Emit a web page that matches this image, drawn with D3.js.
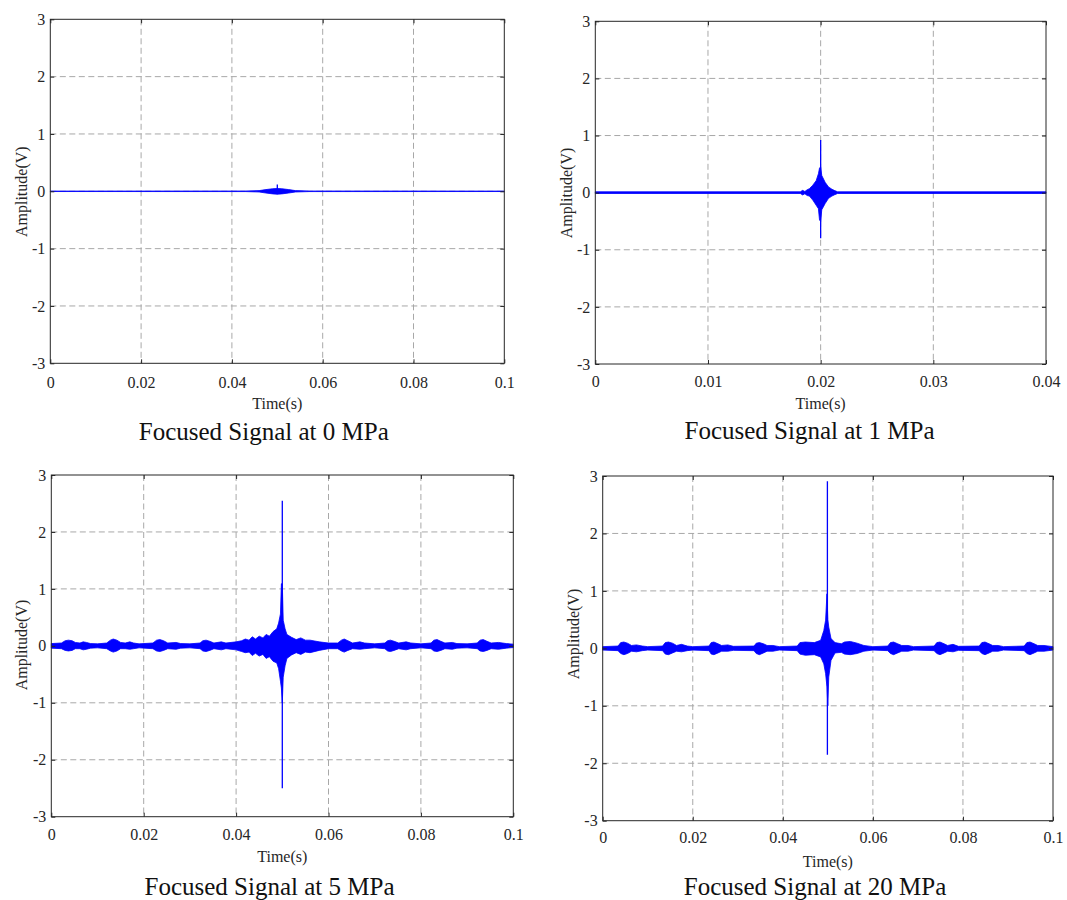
<!DOCTYPE html>
<html>
<head>
<meta charset="utf-8">
<script src="https://cdn.jsdelivr.net/npm/d3@7"></script>
<style>
  body { margin: 0; background: #fff; }
  svg { display: block; }
</style>
</head>
<body>
<svg id="chart" width="1067" height="900"></svg>
<script>
const SERIF = '"Liberation Serif", "Times New Roman", serif';

// tick values
const yTicks = [-3, -2, -1, 0, 1, 2, 3];
const xTicksLong = [0, 0.02, 0.04, 0.06, 0.08, 0.1];
const xTicksShort = [0, 0.01, 0.02, 0.03, 0.04];

const titles = ["Focused Signal at 0 MPa", "Focused Signal at 1 MPa",
                "Focused Signal at 5 MPa", "Focused Signal at 20 MPa"];

// envelope of each signal (time in s, upper / lower amplitude in V)
const env0Time  = [0, 0.043, 0.046, 0.0475, 0.049, 0.050, 0.051, 0.0525, 0.054, 0.057, 0.1];
const env0Upper = [0.004, 0.005, 0.012, 0.03, 0.045, 0.05, 0.045, 0.03, 0.012, 0.005, 0.004];
const env0Lower = [-0.004, -0.005, -0.012, -0.03, -0.045, -0.05, -0.045, -0.03, -0.012, -0.005, -0.004];

const env1Time  = [0, 0.0182, 0.0184, 0.0186, 0.0188, 0.0190, 0.0193, 0.0196, 0.0198, 0.0199, 0.0200,
                   0.0201, 0.0204, 0.0207, 0.0210, 0.0212, 0.0215, 0.04];
const env1Upper = [0.015, 0.015, 0.04, 0.02, 0.05, 0.07, 0.13, 0.21, 0.33, 0.43, 0.45,
                   0.30, 0.18, 0.10, 0.06, 0.04, 0.015, 0.015];
const env1Lower = [-0.015, -0.015, -0.04, -0.02, -0.05, -0.06, -0.13, -0.22, -0.28, -0.48, -0.50,
                   -0.30, -0.19, -0.10, -0.06, -0.04, -0.015, -0.015];

const env5Time  = [0, 0.0022, 0.0030, 0.0037, 0.0045, 0.0052, 0.0062, 0.0069, 0.0076, 0.0085,
                   0.0100, 0.0120, 0.0128, 0.0134, 0.0142, 0.0150, 0.0160, 0.0170, 0.0178, 0.0190,
                   0.0220, 0.0228, 0.0235, 0.0243, 0.0252, 0.0270, 0.0280, 0.0300,
                   0.0322, 0.0328, 0.0335, 0.0343, 0.0352, 0.0368, 0.0378,
                   0.0400, 0.0412, 0.0420, 0.0428, 0.0435, 0.0442, 0.0450, 0.0458, 0.0465, 0.0472,
                   0.0480, 0.0488, 0.0492, 0.0496, 0.0498,
                   0.0500, 0.0502, 0.0506, 0.0510, 0.0520, 0.0530, 0.0540, 0.0550, 0.0560, 0.0580, 0.0600,
                   0.0620, 0.0628, 0.0634, 0.0642, 0.0652, 0.0668, 0.0678, 0.0700,
                   0.0722, 0.0728, 0.0734, 0.0742, 0.0752, 0.0768, 0.0778, 0.0800,
                   0.0822, 0.0828, 0.0835, 0.0843, 0.0852, 0.0868, 0.0878, 0.0900,
                   0.0922, 0.0928, 0.0935, 0.0943, 0.0952, 0.0968, 0.0985, 0.1];
const env5Upper = [0.04, 0.05, 0.09, 0.10, 0.09, 0.06, 0.05, 0.07, 0.06, 0.04,
                   0.035, 0.05, 0.10, 0.12, 0.10, 0.06, 0.05, 0.07, 0.05, 0.035,
                   0.05, 0.10, 0.11, 0.09, 0.05, 0.06, 0.04, 0.035,
                   0.05, 0.09, 0.10, 0.08, 0.05, 0.07, 0.05,
                   0.07, 0.09, 0.12, 0.10, 0.16, 0.12, 0.17, 0.14, 0.20, 0.17,
                   0.25, 0.30, 0.40, 0.56, 1.09,
                   1.09, 0.45, 0.30, 0.20, 0.15, 0.11, 0.14, 0.10, 0.10, 0.07, 0.05,
                   0.05, 0.10, 0.12, 0.09, 0.05, 0.07, 0.05, 0.035,
                   0.05, 0.09, 0.10, 0.08, 0.05, 0.07, 0.05, 0.035,
                   0.05, 0.10, 0.11, 0.08, 0.05, 0.06, 0.04, 0.035,
                   0.05, 0.10, 0.11, 0.08, 0.05, 0.06, 0.04, 0.03];
const env5Lower = [-0.04, -0.05, -0.08, -0.09, -0.08, -0.05, -0.05, -0.07, -0.06, -0.04,
                   -0.035, -0.05, -0.09, -0.11, -0.09, -0.05, -0.05, -0.06, -0.05, -0.035,
                   -0.05, -0.09, -0.10, -0.08, -0.05, -0.06, -0.04, -0.035,
                   -0.05, -0.09, -0.10, -0.08, -0.05, -0.07, -0.05,
                   -0.07, -0.10, -0.12, -0.11, -0.17, -0.13, -0.18, -0.15, -0.22, -0.19,
                   -0.27, -0.30, -0.40, -0.62, -0.74,
                   -1.00, -0.55, -0.35, -0.22, -0.16, -0.12, -0.15, -0.11, -0.12, -0.08, -0.05,
                   -0.05, -0.09, -0.11, -0.08, -0.05, -0.06, -0.05, -0.035,
                   -0.05, -0.09, -0.10, -0.08, -0.05, -0.07, -0.05, -0.035,
                   -0.05, -0.09, -0.10, -0.08, -0.05, -0.06, -0.04, -0.035,
                   -0.05, -0.09, -0.10, -0.08, -0.05, -0.06, -0.04, -0.03];

const env20Time  = [0, 0.0034, 0.0040, 0.0047, 0.0055, 0.0064, 0.0075, 0.0088, 0.0100,
                    0.0133, 0.0139, 0.0146, 0.0155, 0.0164, 0.0175, 0.0188, 0.0200,
                    0.0236, 0.0241, 0.0247, 0.0256, 0.0264, 0.0278, 0.0290,
                    0.0336, 0.0341, 0.0348, 0.0357, 0.0365, 0.0378, 0.0392,
                    0.0432, 0.0438, 0.0450, 0.0470, 0.0484, 0.0491, 0.0495, 0.0498,
                    0.0500, 0.0502, 0.0507, 0.0516, 0.0530, 0.0537, 0.0550, 0.0565, 0.0580, 0.0600,
                    0.0633, 0.0639, 0.0646, 0.0655, 0.0664, 0.0678, 0.0690,
                    0.0736, 0.0742, 0.0749, 0.0758, 0.0766, 0.0778, 0.0790,
                    0.0836, 0.0842, 0.0849, 0.0858, 0.0866, 0.0878, 0.0890,
                    0.0936, 0.0942, 0.0949, 0.0958, 0.0966, 0.0980, 0.1];
const env20Upper = [0.03, 0.04, 0.10, 0.11, 0.09, 0.05, 0.06, 0.04, 0.03,
                    0.04, 0.10, 0.11, 0.09, 0.05, 0.07, 0.04, 0.03,
                    0.04, 0.10, 0.11, 0.08, 0.05, 0.06, 0.035,
                    0.04, 0.09, 0.10, 0.08, 0.05, 0.05, 0.03,
                    0.04, 0.10, 0.11, 0.10, 0.14, 0.31, 0.49, 0.95,
                    0.50, 0.37, 0.17, 0.10, 0.08, 0.11, 0.12, 0.09, 0.05, 0.03,
                    0.04, 0.10, 0.11, 0.08, 0.05, 0.05, 0.03,
                    0.04, 0.10, 0.11, 0.08, 0.05, 0.07, 0.035,
                    0.04, 0.10, 0.11, 0.08, 0.05, 0.05, 0.03,
                    0.04, 0.10, 0.11, 0.08, 0.05, 0.05, 0.03];
const env20Lower = [-0.03, -0.04, -0.09, -0.11, -0.09, -0.05, -0.06, -0.04, -0.03,
                    -0.04, -0.10, -0.11, -0.08, -0.05, -0.06, -0.04, -0.03,
                    -0.04, -0.10, -0.11, -0.08, -0.05, -0.05, -0.035,
                    -0.04, -0.09, -0.11, -0.08, -0.05, -0.05, -0.03,
                    -0.04, -0.10, -0.12, -0.11, -0.15, -0.27, -0.44, -0.67,
                    -1.00, -0.50, -0.21, -0.08, -0.07, -0.10, -0.11, -0.09, -0.05, -0.03,
                    -0.04, -0.09, -0.11, -0.08, -0.05, -0.05, -0.03,
                    -0.04, -0.09, -0.11, -0.08, -0.05, -0.06, -0.035,
                    -0.04, -0.09, -0.11, -0.08, -0.05, -0.05, -0.03,
                    -0.04, -0.09, -0.11, -0.08, -0.05, -0.05, -0.03];

// the single sharp peak of each signal: time, max, min
const spikeTime   = [0.05, 0.02, 0.05, 0.0499];
const spikeTop    = [0.12, 0.92, 2.55, 2.91];
const spikeBottom = [-0.05, -0.80, -2.50, -1.85];

const panels = [
  { t: env0Time,  up: env0Upper,  lo: env0Lower,  xt: xTicksLong,
    x0: 50.3, x1: 504.3, y0: 19.3, y1: 363.3, labX: 26.7, labY: 191.7, tickBase: 388, timeBase: 409.3, titleX: 263.8, titleBase: 440 },
  { t: env1Time,  up: env1Upper,  lo: env1Lower,  xt: xTicksShort,
    x0: 595.3, x1: 1046, y0: 21.3, y1: 364, labX: 572, labY: 193, tickBase: 387, timeBase: 409, titleX: 809.5, titleBase: 439 },
  { t: env5Time,  up: env5Upper,  lo: env5Lower,  xt: xTicksLong,
    x0: 51.3, x1: 513.3, y0: 475, y1: 816.7, labX: 27, labY: 645, tickBase: 840, timeBase: 861.7, titleX: 269.5, titleBase: 895 },
  { t: env20Time, up: env20Upper, lo: env20Lower, xt: xTicksLong,
    x0: 602.7, x1: 1053, y0: 476, y1: 820.7, labX: 579, labY: 634, tickBase: 843.3, timeBase: 866.7, titleX: 815, titleBase: 895 }
];

const svg = d3.select("#chart");
const fmt = d => d === 0 ? "0" : String(+d.toFixed(2));

panels.forEach((p, i) => {
  const xMax = p.xt[p.xt.length - 1];
  const x = d3.scaleLinear().domain([0, xMax]).range([p.x0, p.x1]);
  const y = d3.scaleLinear().domain([-3, 3]).range([p.y1, p.y0]);
  const g = svg.append("g");

  // dashed grid
  g.append("g").selectAll("line").data(p.xt.slice(1, -1)).join("line")
    .attr("x1", d => x(d)).attr("x2", d => x(d)).attr("y1", p.y0).attr("y2", p.y1)
    .attr("stroke", "#a8a8a8").attr("stroke-width", 1).attr("stroke-dasharray", "6,3.5");
  g.append("g").selectAll("line").data(yTicks.slice(1, -1)).join("line")
    .attr("y1", d => y(d)).attr("y2", d => y(d)).attr("x1", p.x0).attr("x2", p.x1)
    .attr("stroke", "#a8a8a8").attr("stroke-width", 1).attr("stroke-dasharray", "6,3.5");

  // signal envelope
  const pts = p.t.map((t, k) => ({ t: t, up: p.up[k], lo: p.lo[k] }));
  g.append("path").datum(pts)
    .attr("d", d3.area().x(d => x(d.t)).y0(d => y(d.lo)).y1(d => y(d.up)))
    .attr("fill", "#0000ff").attr("stroke", "#0000ff").attr("stroke-width", 0.8)
    .attr("stroke-linejoin", "round");
  g.append("line")
    .attr("x1", x(spikeTime[i])).attr("x2", x(spikeTime[i]))
    .attr("y1", y(spikeTop[i])).attr("y2", y(spikeBottom[i]))
    .attr("stroke", "#0000ff").attr("stroke-width", 1.3);

  // axes: ticks inward on all four sides
  const ax = g.append("g").attr("transform", `translate(0,${p.y1})`)
    .call(d3.axisBottom(x).tickValues(p.xt).tickFormat(fmt).tickSizeInner(-4).tickSizeOuter(0));
  ax.selectAll("text").attr("y", p.tickBase - p.y1).attr("dy", null);
  g.append("g").attr("transform", `translate(0,${p.y0})`)
    .call(d3.axisTop(x).tickValues(p.xt).tickFormat("").tickSizeInner(-4).tickSizeOuter(0));
  g.append("g").attr("transform", `translate(${p.x0},0)`)
    .call(d3.axisLeft(y).tickValues(yTicks).tickFormat(d3.format("d")).tickSizeInner(-4).tickSizeOuter(0).tickPadding(5));
  g.append("g").attr("transform", `translate(${p.x1},0)`)
    .call(d3.axisRight(y).tickValues(yTicks).tickFormat("").tickSizeInner(-4).tickSizeOuter(0));
  g.selectAll(".domain").remove();
  g.selectAll(".tick line").attr("stroke", "#262626");
  g.selectAll(".tick text")
    .attr("font-family", SERIF).attr("font-size", 16).attr("fill", "#262626")
    .each(function () {
      const s = d3.select(this); s.text(s.text().replace("\u2212", "-"));
    });

  g.append("rect").attr("x", p.x0).attr("y", p.y0)
    .attr("width", p.x1 - p.x0).attr("height", p.y1 - p.y0)
    .attr("fill", "none").attr("stroke", "#262626").attr("stroke-width", 1);

  // labels
  g.append("text").attr("x", (p.x0 + p.x1) / 2).attr("y", p.timeBase)
    .attr("font-family", SERIF).attr("font-size", 16).attr("fill", "#262626")
    .attr("text-anchor", "middle").text("Time(s)");
  g.append("text").attr("text-anchor", "middle")
    .attr("font-family", SERIF).attr("font-size", 16).attr("fill", "#262626")
    .attr("transform", `translate(${p.labX},${p.labY}) rotate(-90)`).text("Amplitude(V)");
  g.append("text").attr("x", p.titleX).attr("y", p.titleBase)
    .attr("font-family", SERIF).attr("font-size", 25).attr("fill", "#111")
    .attr("text-anchor", "middle").text(titles[i]);
});
</script>
</body>
</html>
